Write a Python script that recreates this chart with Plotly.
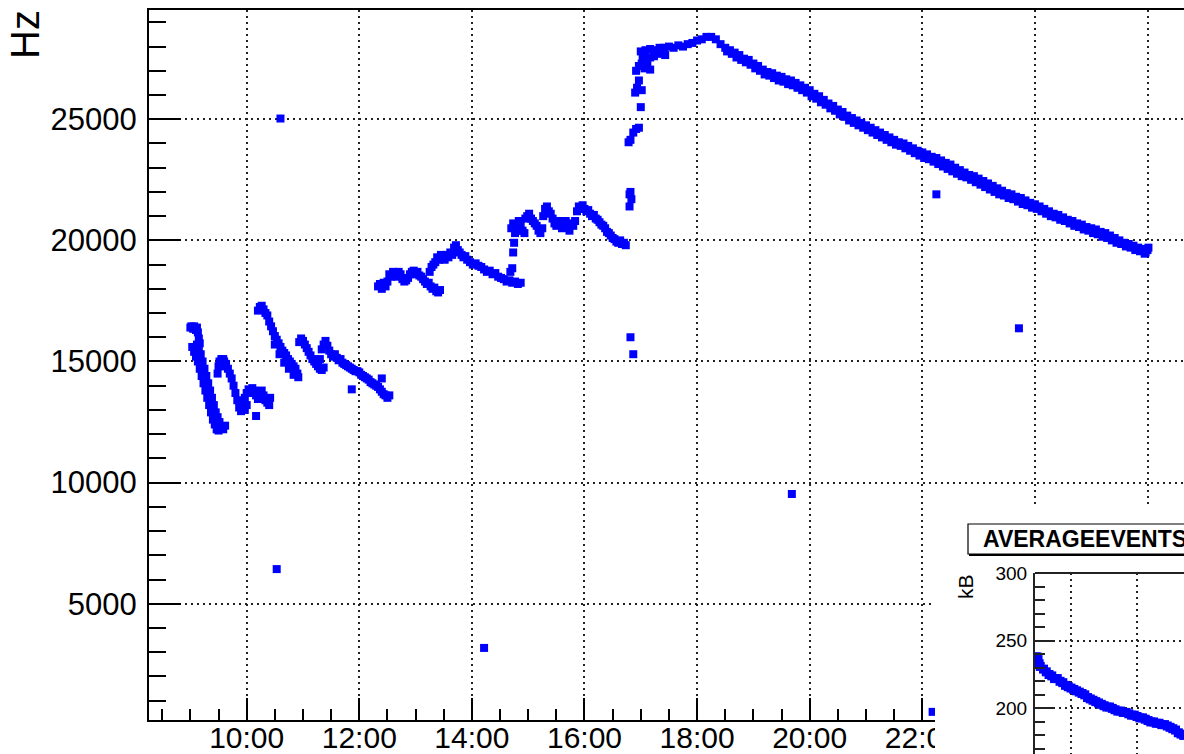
import plotly.graph_objects as go
from datetime import datetime, timedelta

# ---------------------------------------------------------------- data
# Trigger rate (Hz) versus time of day; one run spanning midnight.

seg_a_time = ["09:00", "09:01", "09:03", "09:04", "09:06", "09:07", "09:08", "09:09", "09:10",
              "09:02", "09:04", "09:06", "09:08", "09:10", "09:12", "09:14", "09:16", "09:18",
              "09:20", "09:22", "09:24", "09:26", "09:28", "09:30",
              "09:07", "09:09", "09:11", "09:13", "09:15", "09:17", "09:19", "09:21", "09:23",
              "09:25", "09:27", "09:29", "09:31", "09:33", "09:35", "09:37"]
seg_a_rate = [16400, 16450, 16350, 16450, 16300, 16400, 16200, 15950, 15750,
              15600, 15400, 15200, 15000, 14700, 14400, 14100, 13800, 13500,
              13200, 12900, 12600, 12400, 12200, 12150,
              15700, 15500, 15300, 15000, 14700, 14400, 14100, 13800, 13500,
              13200, 12900, 12700, 12500, 12300, 12200, 12350]

seg_b_time = ["09:29", "09:30", "09:31", "09:33", "09:34", "09:35", "09:36", "09:37", "09:38",
              "09:40", "09:42", "09:44", "09:46", "09:48", "09:50", "09:52", "09:54",
              "09:56", "09:58", "10:00", "10:02", "10:04", "10:06", "10:08", "10:10", "10:12",
              "10:14", "10:16", "10:18", "10:20", "10:22", "10:24", "10:25", "09:58", "10:00",
              "10:10"]
seg_b_rate = [14500, 14800, 15000, 15100, 14900, 15100, 15000, 14800, 14900,
              14700, 14500, 14300, 14000, 13700, 13400, 13100, 12950,
              13200, 13500, 13700, 13850, 13700, 13900, 13800, 13600, 13450,
              13700, 13800, 13600, 13400, 13300, 13200, 13500, 13000, 13200,
              12750]

seg_c_time = ["10:12", "10:14", "10:16", "10:18", "10:20", "10:22", "10:24", "10:26", "10:28",
              "10:30", "10:32", "10:34", "10:36", "10:38", "10:40", "10:42", "10:44", "10:46",
              "10:48", "10:50", "10:52", "10:54", "10:30", "10:35", "10:40", "10:45", "10:50",
              "10:55", "10:56", "10:58", "11:00", "11:02", "11:04", "11:06", "11:08", "11:10",
              "11:12", "11:14", "11:16", "11:18", "11:20", "11:22", "11:18", "11:20", "11:22",
              "11:24", "11:26", "11:28", "11:30", "11:32", "11:34", "11:36", "11:38", "11:40",
              "11:42", "11:44", "11:46", "11:48", "11:50", "11:52", "11:54", "11:56", "11:58",
              "12:00", "12:02", "12:04", "12:06", "12:08", "12:10", "12:12", "12:14", "12:16",
              "12:18", "12:20", "12:22", "12:24", "12:26", "12:28", "12:30", "12:32",
              "11:52", "12:24"]
seg_c_rate = [17100, 17250, 17300, 17150, 17000, 16900, 16650, 16450, 16250,
              16050, 15900, 15750, 15600, 15450, 15350, 15250, 15100, 15000,
              14900, 14800, 14700, 14500, 15700, 15300, 14950, 14700, 14450,
              14350, 15800, 15950, 15850, 15700, 15550, 15400, 15250, 15100,
              15000, 14900, 14800, 14700, 14650, 14750, 15100, 15500, 15700,
              15850, 15650, 15450, 15300, 15200, 15300, 15150, 15050, 15100,
              14950, 14900, 14850, 14800, 14750, 14700, 14650, 14600, 14600,
              14550, 14450, 14400, 14350, 14300, 14250, 14150, 14100, 14050,
              14000, 13950, 13850, 13750, 13650, 13600, 13500, 13600,
              13850, 14300]

seg_d_time = ["12:20", "12:22", "12:24", "12:26", "12:28", "12:30", "12:32", "12:34", "12:36",
              "12:38", "12:40", "12:42", "12:44", "12:46", "12:48", "12:50", "12:52", "12:54",
              "12:56", "12:58", "13:00", "13:02", "13:04", "13:06", "13:08", "13:10", "13:12",
              "13:14", "13:16", "13:18", "13:20", "13:22", "13:24", "13:26",
              "13:15", "13:17", "13:19", "13:21", "13:23", "13:25", "13:27", "13:29", "13:31",
              "13:33", "13:35", "13:37", "13:39", "13:41", "13:43", "13:45", "13:47", "13:49",
              "13:51", "13:53", "13:55", "13:58", "14:01", "14:04", "14:07", "14:10", "14:13",
              "14:16", "14:19", "14:22", "14:25", "14:28", "14:31", "14:34", "14:37", "14:40",
              "14:43", "14:46", "14:49", "14:52"]
seg_d_rate = [18100, 18200, 18000, 18250, 18100, 18300, 18600, 18500, 18700,
              18600, 18500, 18700, 18600, 18400, 18300, 18350, 18450, 18600,
              18700, 18750, 18600, 18700, 18550, 18500, 18400, 18300, 18200,
              18250, 18100, 18000, 18050, 17900, 17850, 17950,
              18700, 18900, 19000, 19100, 19300, 19200, 19400, 19300, 19200,
              19400, 19300, 19500, 19400, 19700, 19800, 19600, 19500, 19400,
              19300, 19350, 19200, 19100, 19000, 19050, 18950, 18900, 18800,
              18700, 18750, 18600, 18650, 18500, 18450, 18400, 18300, 18350,
              18250, 18300, 18200, 18250]

seg_e_time = ["14:41", "14:43", "14:44", "14:45", "14:46",
              "14:42", "14:44", "14:46", "14:48", "14:50", "14:52", "14:54", "14:56", "14:57",
              "14:59", "15:01", "15:03", "15:05", "15:07", "15:09", "15:11", "15:13", "15:15",
              "15:16", "15:18", "15:20", "15:22", "15:24", "15:26", "15:28", "15:30", "15:32",
              "15:34", "15:36", "15:38", "15:40", "15:42", "15:44", "15:46", "15:48", "15:50",
              "15:52", "15:54", "15:56", "15:58", "16:00", "16:02", "16:04", "16:06", "16:08",
              "16:10", "16:12", "16:14", "16:16", "16:18", "16:20", "16:22", "16:24", "16:26",
              "16:28", "16:30", "16:32", "16:34", "16:36", "16:38", "16:40", "16:42", "16:44"]
seg_e_rate = [18700, 18850, 19500, 19900, 20300,
              20500, 20700, 20600, 20400, 20800, 20600, 20400, 20300, 20900,
              21000, 21100, 20900, 20800, 20700, 20600, 20400, 20300, 20500,
              21000, 21300, 21400, 21200, 21100, 20900, 20700, 20600, 20800,
              20700, 20500, 20600, 20800, 20600, 20400, 20700, 20600, 20800,
              21200, 21400, 21300, 21450, 21300, 21200, 21250, 21100, 21000,
              21050, 20900, 20850, 20750, 20650, 20600, 20500, 20350, 20300,
              20200, 20100, 20050, 19950, 19900, 20000, 19850, 19900, 19800]

seg_f_time = ["16:47", "16:48", "16:48", "16:49", "16:49", "16:50", "16:52", "16:49", "16:52",
              "16:55", "16:58", "17:00", "16:54", "16:56", "16:58", "17:01", "16:55", "16:58",
              "17:01", "17:04", "17:07", "17:10"]
seg_f_rate = [24050, 21900, 21400, 22000, 16000, 21700, 15300, 24150, 24450,
              24600, 24650, 25500, 26100, 26300, 26600, 26200, 27000, 27200,
              27300, 27100, 27250, 27050]

seg_g_time = ["17:00", "17:05", "17:10", "17:15", "17:20", "17:25", "17:30", "17:35", "17:40",
              "17:45", "17:50", "17:55", "17:02", "17:06", "17:10", "17:14", "17:20", "17:26",
              "18:00", "18:05", "18:10", "18:15", "18:20", "18:25", "18:30", "18:35", "18:40",
              "18:45", "18:50", "18:55", "19:00", "19:05", "19:10", "19:15", "19:20", "19:25",
              "19:30", "19:35", "19:40", "19:45", "19:50", "19:55", "20:00", "20:05", "20:10",
              "20:15", "20:20", "20:25", "20:30", "20:35", "20:40", "20:45", "20:50", "20:55",
              "21:00", "21:05", "21:10", "21:15", "21:20", "21:25", "21:30", "21:35", "21:40",
              "21:45", "21:50", "21:55", "22:00", "22:05", "22:10", "22:15", "22:20", "22:25",
              "22:30", "22:35", "22:40", "22:45", "22:50", "22:55", "23:00", "23:05", "23:10",
              "23:15", "23:20", "23:25", "23:30", "23:35", "23:40", "23:45", "23:50", "23:55",
              "00:00", "00:05", "00:10", "00:15", "00:20", "00:25", "00:30", "00:35", "00:40",
              "00:45", "00:50", "00:55", "01:00", "01:05", "01:10", "01:15", "01:20", "01:25",
              "01:30", "01:35", "01:40", "01:45", "01:50", "01:55", "02:00", "01:58", "02:01"]
seg_g_rate = [27800, 27850, 27900, 27850, 27950, 27950, 28000, 27950, 28050,
              28000, 28100, 28150, 27600, 27500, 27550, 27600, 27700, 27650,
              28250, 28300, 28400, 28400, 28300, 28100, 27950, 27850, 27750,
              27650, 27500, 27450, 27300, 27200, 27050, 26950, 26900, 26800,
              26750, 26650, 26600, 26500, 26400, 26300, 26200, 26050, 25950,
              25800, 25650, 25550, 25400, 25300, 25150, 25050, 24950, 24850,
              24750, 24650, 24550, 24450, 24350, 24250, 24150, 24050, 24000,
              23900, 23800, 23700, 23630, 23550, 23450, 23400, 23300, 23200,
              23130, 23000, 22900, 22800, 22700, 22650, 22550, 22450, 22350,
              22250, 22150, 22050, 21950, 21900, 21800, 21750, 21650, 21550,
              21490, 21400, 21300, 21200, 21100, 21050, 20950, 20850, 20800,
              20700, 20650, 20550, 20500, 20450, 20350, 20300, 20200, 20100,
              20000, 19900, 19850, 19780, 19700, 19650, 19600, 19500, 19700]

# lower edge of the long evening decline
seg_h_time = ["18:32", "18:37", "18:42", "18:47", "18:52", "18:57", "19:02", "19:07", "19:12",
              "19:17", "19:22", "19:27", "19:32", "19:37", "19:42", "19:47", "19:52", "19:57",
              "20:02", "20:07", "20:12", "20:17", "20:22", "20:27", "20:32", "20:37", "20:42",
              "20:47", "20:52", "20:57", "21:02", "21:07", "21:12", "21:17", "21:22", "21:27",
              "21:32", "21:37", "21:42", "21:47", "21:52", "21:57", "22:02", "22:07", "22:12",
              "22:17", "22:22", "22:27", "22:32", "22:37", "22:42", "22:47", "22:52", "22:57",
              "23:02", "23:07", "23:12", "23:17", "23:22", "23:27", "23:32", "23:37", "23:42",
              "23:47", "23:52", "23:57", "00:02", "00:07", "00:12", "00:17", "00:22", "00:27",
              "00:32", "00:37", "00:42", "00:47", "00:52", "00:57", "01:02", "01:07", "01:12",
              "01:17", "01:22", "01:27", "01:32", "01:37", "01:42", "01:47", "01:52", "01:57"]
seg_h_rate = [27800, 27700, 27550, 27450, 27350, 27250, 27100, 27000, 26850,
              26800, 26700, 26600, 26550, 26450, 26400, 26300, 26200, 26100,
              25950, 25850, 25700, 25600, 25450, 25350, 25200, 25100, 24950,
              24850, 24750, 24650, 24550, 24450, 24350, 24250, 24150, 24050,
              23950, 23900, 23800, 23700, 23600, 23500, 23400, 23350, 23250,
              23150, 23050, 22950, 22850, 22750, 22650, 22600, 22500, 22400,
              22300, 22200, 22100, 22000, 21900, 21850, 21750, 21700, 21600,
              21500, 21450, 21350, 21300, 21200, 21100, 21000, 20950, 20850,
              20800, 20700, 20600, 20550, 20450, 20400, 20300, 20250, 20150,
              20100, 20000, 19900, 19850, 19750, 19700, 19600, 19550, 19450]

# isolated readings away from the main trend
outlier_time = ["10:32", "10:36", "14:13", "19:41", "22:11", "22:15", "23:43"]
outlier_rate = [6430, 25030, 3175, 9530, 536, 21900, 16370]

# time axis labels of the large pad
tick_time = ["10:00", "12:00", "14:00", "16:00", "18:00", "20:00", "22:00", "00:00", "02:00"]
tick_text = ["10:00", "12:00", "14:00", "16:00", "18:00", "20:00", "22:00", "", ""]

# average event size (kB), small pad
size_time = ["08:55", "08:58", "09:00", "09:02", "09:04", "09:10", "09:15", "09:20", "09:25",
             "09:30", "09:35", "09:40", "09:45", "09:50", "09:55", "10:00", "10:05", "10:10",
             "10:15", "10:20", "10:25", "10:30", "10:35", "10:40", "10:45", "10:50", "10:55",
             "11:00", "11:05", "11:10", "11:15", "11:20", "11:25", "11:30", "11:35", "11:40",
             "11:45", "11:50", "11:55", "12:00", "12:05", "12:10", "12:15", "12:20", "12:25",
             "12:30", "12:35", "12:40", "12:45", "12:50", "12:55", "13:00", "13:05", "13:10",
             "13:15", "13:20", "13:25"]
size_kb = [238, 238, 236, 233, 231, 229, 227, 225, 224,
           222, 222, 220, 219, 217, 216, 215, 214, 213,
           212, 211, 210, 208, 207, 206, 205, 204, 203,
           202, 201, 201, 200, 199, 198, 198, 197, 197,
           196, 195, 195, 194, 193, 193, 192, 191, 190,
           190, 189, 189, 188, 188, 187, 186, 185, 184,
           182, 181, 180]

# ---------------------------------------------------------------- helpers
DAY = datetime(2011, 11, 25)


def stamp(hhmm):
    parts = [int(p) for p in hhmm.split(":")]
    h, m = parts[0], parts[1]
    s = parts[2] if len(parts) > 2 else 0
    t = DAY + timedelta(hours=h, minutes=m, seconds=s)
    if h < 8:  # after midnight
        t += timedelta(days=1)
    return t


W, H = 1184, 754
ML, MT = 149, 10
PW, PH = W - ML, H - MT


def fx(px):
    return (px - ML) / PW


def fy(py):
    return (H - py) / PH


FONT = "Liberation Sans, Arial, Helvetica, sans-serif"
BLUE = "#0000ff"
GRID = dict(showgrid=True, gridcolor="#222222", gridwidth=1.5, griddash="2px,4px")

all_time = (seg_a_time + seg_b_time + seg_c_time + seg_d_time + seg_e_time
            + seg_f_time + seg_g_time + seg_h_time + outlier_time)
all_rate = (seg_a_rate + seg_b_rate + seg_c_rate + seg_d_rate + seg_e_rate
            + seg_f_rate + seg_g_rate + seg_h_rate + outlier_rate)

fig = go.Figure()

fig.add_trace(go.Scatter(
    x=[stamp(t) for t in all_time], y=all_rate, mode="markers",
    marker=dict(symbol="square", size=8, color=BLUE, line=dict(width=0)),
    xaxis="x", yaxis="y", hoverinfo="skip", showlegend=False))

# empty pad that hosts the white canvas of the small plot
fig.add_trace(go.Scatter(x=[], y=[], xaxis="x2", yaxis="y2",
                         hoverinfo="skip", showlegend=False))

fig.add_trace(go.Scatter(
    x=[stamp(t) for t in size_time], y=size_kb, mode="markers",
    marker=dict(symbol="square", size=9, color=BLUE, line=dict(width=0)),
    xaxis="x3", yaxis="y3", hoverinfo="skip", showlegend=False))

fig.update_layout(
    width=W, height=H,
    margin=dict(l=ML, r=0, t=MT, b=0, pad=0, autoexpand=False),
    paper_bgcolor="white", plot_bgcolor="white",
    font=dict(family=FONT, color="black"),
    xaxis=dict(
        type="date", domain=[0, 1], anchor="y", automargin=False,
        range=[stamp("08:15:54"), stamp("02:38:54")],
        tickmode="array", tickvals=[stamp(t) for t in tick_time], ticktext=tick_text,
        ticks="inside", ticklen=22, tickwidth=2, tickcolor="black",
        minor=dict(tick0=stamp("10:00"), dtick=1800 * 1000, ticks="inside", ticklen=11,
                   tickwidth=2, tickcolor="black", showgrid=False),
        showline=True, linewidth=2, linecolor="black", mirror=True,
        tickfont=dict(size=30, family=FONT, color="black"),
        ticklabelstandoff=-10, zeroline=False, **GRID),
    yaxis=dict(
        domain=[fy(720), 1], anchor="x", automargin=False,
        range=[200, 29510], tick0=0, dtick=5000, tickformat="d",
        ticks="inside", ticklen=32, tickwidth=2, tickcolor="black",
        minor=dict(dtick=1000, ticks="inside", ticklen=17, tickwidth=2,
                   tickcolor="black", showgrid=False),
        showline=True, linewidth=2, linecolor="black",
        tickfont=dict(size=31, family=FONT, color="black"),
        ticklabelstandoff=4, zeroline=False, **GRID),
    xaxis2=dict(domain=[fx(935), 1], anchor="y2", range=[0, 1], automargin=False,
                showgrid=False, zeroline=False, showticklabels=False,
                ticks="", showline=False),
    yaxis2=dict(domain=[0, fy(505)], anchor="x2", range=[0, 1], automargin=False,
                showgrid=False, zeroline=False, showticklabels=False,
                ticks="", showline=False),
    xaxis3=dict(
        type="date", domain=[fx(1035), 1], anchor="y3", automargin=False,
        range=[stamp("08:54:30"), stamp("13:25:24")],
        tick0=stamp("10:00"), dtick=2 * 3600 * 1000,
        showticklabels=False, ticks="", showline=False, zeroline=False, **GRID),
    yaxis3=dict(
        domain=[0, fy(573)], anchor="x3", automargin=False,
        range=[166.3, 300], tick0=0, dtick=50,
        ticks="inside", ticklen=18, tickwidth=1.5, tickcolor="#222",
        minor=dict(dtick=10, ticks="inside", ticklen=10, tickwidth=1.5,
                   tickcolor="#222", showgrid=False),
        showline=True, linewidth=2, linecolor="#222",
        tickfont=dict(size=19, family=FONT, color="black"),
        ticklabelstandoff=2, zeroline=False, **GRID),
    shapes=[
        # white canvas of the small pad, drawn over the large pad
        dict(type="rect", xref="x2", yref="y2", x0=0, x1=1, y0=0, y1=1,
             layer="below", fillcolor="white", line=dict(width=0)),
        # canvas edge hides the rest of the last visible time label
        dict(type="rect", xref="paper", yref="paper",
             x0=fx(935), x1=fx(1000), y0=fy(754), y1=fy(723),
             layer="above", fillcolor="white", line=dict(width=0)),
        # top frame of the small pad
        dict(type="line", xref="x3 domain", yref="y3 domain", x0=0, x1=1.05,
             y0=1, y1=1, layer="above", line=dict(color="#222", width=2)),
        # title box of the small pad
        dict(type="rect", xref="paper", yref="paper",
             x0=fx(968), x1=fx(1210), y0=fy(554), y1=fy(524),
             layer="above", fillcolor="white", line=dict(color="black", width=1.2)),
        dict(type="line", xref="paper", yref="paper",
             x0=fx(969), x1=fx(1210), y0=fy(555), y1=fy(555),
             layer="above", line=dict(color="black", width=2)),
    ],
    annotations=[
        dict(text="Hz", xref="paper", yref="paper", x=fx(25), y=fy(35),
             textangle=-90, showarrow=False, xanchor="center", yanchor="middle",
             font=dict(size=40, family=FONT, color="black")),
        dict(text="AVERAGEEVENTSIZE", xref="paper", yref="paper",
             x=fx(981), y=fy(538.5), xanchor="left", yanchor="middle",
             showarrow=False,
             font=dict(size=23, family=FONT, color="black", weight="bold")),
        dict(text="kB", xref="paper", yref="paper", x=fx(965), y=fy(587),
             textangle=-90, showarrow=False, xanchor="center", yanchor="middle",
             font=dict(size=21, family=FONT, color="black")),
    ],
)

fig.write_html("out.html")
